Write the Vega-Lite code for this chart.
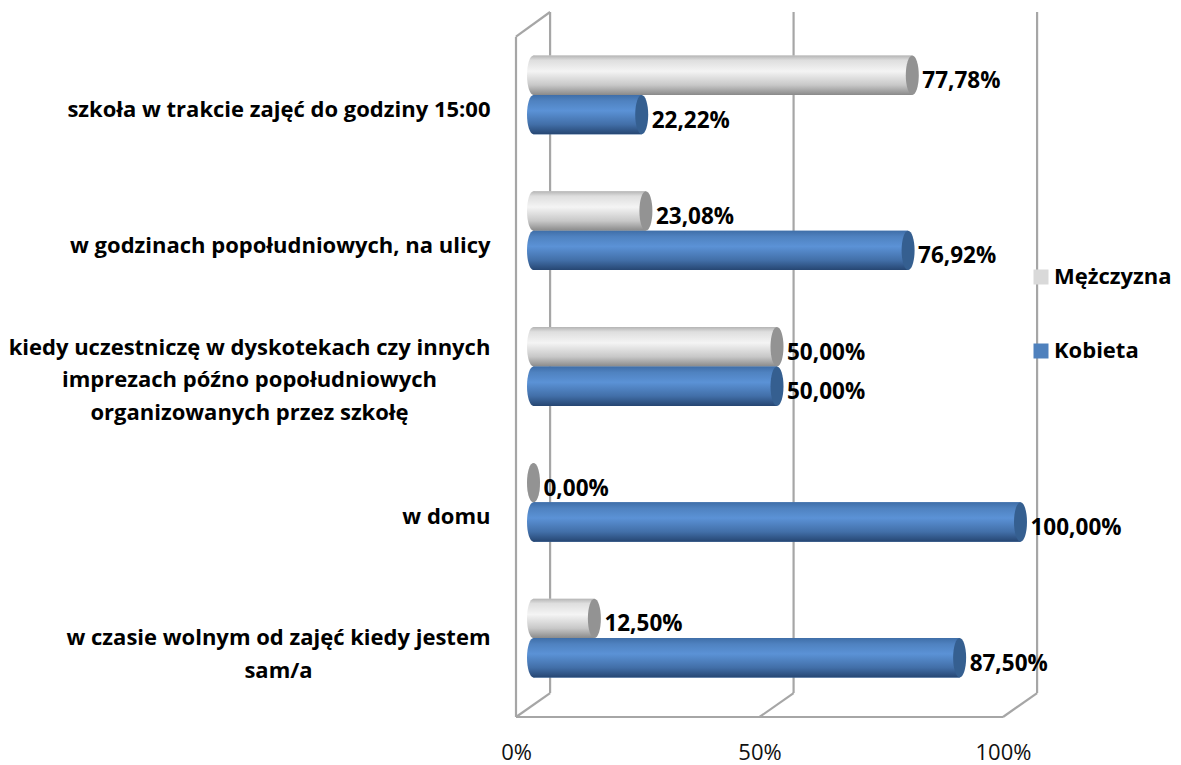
{
"$schema":"https://vega.github.io/schema/vega-lite/v6.json",
"width":521,"height":705,
"autosize":{"type":"none"},
"padding":{"left":516,"top":12,"right":144,"bottom":48},
"background":"white",
"config":{"view":{"stroke":null},"font":"Open Sans"},
"datasets":{
"bars":[
{"category":"szkoła w trakcie zajęć do godziny 15:00","series":"Mężczyzna","value":77.78,"label":"77,78%"},
{"category":"szkoła w trakcie zajęć do godziny 15:00","series":"Kobieta","value":22.22,"label":"22,22%"},
{"category":"w godzinach popołudniowych, na ulicy","series":"Mężczyzna","value":23.08,"label":"23,08%"},
{"category":"w godzinach popołudniowych, na ulicy","series":"Kobieta","value":76.92,"label":"76,92%"},
{"category":"kiedy uczestniczę w dyskotekach czy innych|imprezach późno popołudniowych|organizowanych przez szkołę","series":"Mężczyzna","value":50,"label":"50,00%"},
{"category":"kiedy uczestniczę w dyskotekach czy innych|imprezach późno popołudniowych|organizowanych przez szkołę","series":"Kobieta","value":50,"label":"50,00%"},
{"category":"w domu","series":"Mężczyzna","value":0,"label":"0,00%"},
{"category":"w domu","series":"Kobieta","value":100,"label":"100,00%"},
{"category":"w czasie wolnym od zajęć kiedy jestem|sam/a","series":"Mężczyzna","value":12.5,"label":"12,50%"},
{"category":"w czasie wolnym od zajęć kiedy jestem|sam/a","series":"Kobieta","value":87.5,"label":"87,50%"}
],
"frame":[
{"a":0,"a2":0,"d":0,"d2":96.5},
{"a":0,"a2":7,"d":96.5,"d2":100},
{"a":7,"a2":7,"d":3.4,"d2":100},
{"a":0,"a2":100,"d":0,"d2":0},
{"a":0,"a2":7,"d":0,"d2":3.4},
{"a":57,"a2":57,"d":3.4,"d2":100},
{"a":50,"a2":57,"d":0,"d2":3.4},
{"a":107,"a2":107,"d":3.4,"d2":100},
{"a":100,"a2":107,"d":0,"d2":3.4}
]},
"resolve":{"scale":{"x":"independent","y":"independent"},"axis":{"x":"independent","y":"independent"}},
"layer":[
{"data":{"name":"frame"},
 "mark":{"type":"rule","color":"#a6a6a6","strokeWidth":2.2},
 "encoding":{
  "x":{"field":"a","type":"quantitative","scale":{"domain":[0,100],"range":[0,487],"clamp":false},
   "axis":{"values":[0,50,100],"labelExpr":"datum.value+'%'","title":null,"grid":false,"domain":false,"ticks":false,"labelPadding":25,"labelFontSize":22,"labelColor":"#111","labelFont":"Open Sans","labelOverlap":false,"labelBound":false,"labelFlush":false}},
  "x2":{"field":"a2"},
  "y":{"field":"d","type":"quantitative","scale":{"domain":[0,100],"range":[705,0]},"axis":null},
  "y2":{"field":"d2"}
 }},
{"data":{"name":"bars"},
 "encoding":{
  "x":{"field":"value","type":"quantitative","stack":null,"scale":{"domain":[0,100],"range":[17.5,504.5]},"axis":null},
  "y":{"field":"category","type":"nominal","sort":null,"scale":{"range":[15,694],"paddingInner":0.42,"paddingOuter":0.21},
   "axis":{"title":null,"domain":false,"ticks":false,"grid":false,"labelPadding":26,"labelOffset":15,"labelFontSize":22,"labelFontWeight":"bold","labelColor":"#000","labelLimit":0,"labelExpr":"split(datum.value,'|')","labelLineHeight":32.5,
    "encoding":{"labels":{
      "align":{"value":{"signal":"indexof(datum.value,'|')>0 ? 'center' : 'right'"}},
      "dx":{"value":{"signal":"indexof(datum.value,'kiedy')==0 ? -241 : indexof(datum.value,'w czasie')==0 ? -212 : 0"}},
      "dy":{"value":{"signal":"indexof(datum.value,'kiedy')==0 ? -34 : indexof(datum.value,'w czasie')==0 ? -15 : 0"}}}}}},
  "yOffset":{"field":"series","type":"nominal","scale":{"domain":["Mężczyzna","Kobieta"],"paddingInner":0}}
 },
 "layer":[
  {"mark":{"type":"bar","x":17.5},
   "encoding":{"color":{"field":"series","type":"nominal","scale":{"domain":["Mężczyzna","Kobieta"],"range":["#d9d9d9","#4f81bd"]},
    "legend":{"title":null,"orient":"none","legendX":514,"legendY":254,"symbolType":"square","symbolSize":225,"symbolStrokeWidth":0,"rowPadding":52,"labelFontSize":22,"labelFontWeight":"bold","labelColor":"#000","labelOffset":2,"labelLimit":0}}}},
  {"transform":[{"filter":"datum.series=='Mężczyzna'"}],
   "mark":{"type":"point","filled":true,"opacity":1,"size":1552,"shape":"M-0.33,0C-0.33,-0.5523,-0.182,-1,0,-1C0.182,-1,0.33,-0.5523,0.33,0C0.33,0.5523,0.182,1,0,1C-0.182,1,-0.33,0.5523,-0.33,0Z",
    "fill":{"gradient":"linear","x1":0,"y1":0,"x2":0,"y2":1,"stops":[{"offset":0,"color":"#b5b5b5"},{"offset":0.12,"color":"#dedede"},{"offset":0.4,"color":"#f4f4f4"},{"offset":0.75,"color":"#c8c8c8"},{"offset":1,"color":"#8a8a8a"}]}},
   "encoding":{"x":{"datum":0}}},
  {"transform":[{"filter":"datum.series=='Kobieta'"}],
   "mark":{"type":"point","filled":true,"opacity":1,"size":1552,"shape":"M-0.33,0C-0.33,-0.5523,-0.182,-1,0,-1C0.182,-1,0.33,-0.5523,0.33,0C0.33,0.5523,0.182,1,0,1C-0.182,1,-0.33,0.5523,-0.33,0Z",
    "fill":{"gradient":"linear","x1":0,"y1":0,"x2":0,"y2":1,"stops":[{"offset":0,"color":"#3f6ea8"},{"offset":0.15,"color":"#4f82c0"},{"offset":0.4,"color":"#5b92d6"},{"offset":0.75,"color":"#426fa8"},{"offset":1,"color":"#264672"}]}},
   "encoding":{"x":{"datum":0}}},
  {"transform":[{"filter":"datum.series=='Mężczyzna'"}],
   "mark":{"type":"bar","fill":{"gradient":"linear","x1":0,"y1":0,"x2":0,"y2":1,"stops":[{"offset":0,"color":"#b5b5b5"},{"offset":0.12,"color":"#dedede"},{"offset":0.4,"color":"#f4f4f4"},{"offset":0.75,"color":"#c8c8c8"},{"offset":1,"color":"#8a8a8a"}]}}},
  {"transform":[{"filter":"datum.series=='Kobieta'"}],
   "mark":{"type":"bar","fill":{"gradient":"linear","x1":0,"y1":0,"x2":0,"y2":1,"stops":[{"offset":0,"color":"#3f6ea8"},{"offset":0.15,"color":"#4f82c0"},{"offset":0.4,"color":"#5b92d6"},{"offset":0.75,"color":"#426fa8"},{"offset":1,"color":"#264672"}]}}},
  {"mark":{"type":"point","filled":true,"opacity":1,"size":1552,"shape":"M-0.33,0C-0.33,-0.5523,-0.182,-1,0,-1C0.182,-1,0.33,-0.5523,0.33,0C0.33,0.5523,0.182,1,0,1C-0.182,1,-0.33,0.5523,-0.33,0Z"},
   "encoding":{"fill":{"condition":{"test":"datum.series=='Kobieta'","value":"#355f90"},"value":"#939393"}}},
  {"mark":{"type":"text","align":"left","dx":10,"dy":6,"fontSize":22.5,"fontWeight":"bold","color":"#000"},
   "encoding":{"text":{"field":"label"}}}
 ]}
]}
